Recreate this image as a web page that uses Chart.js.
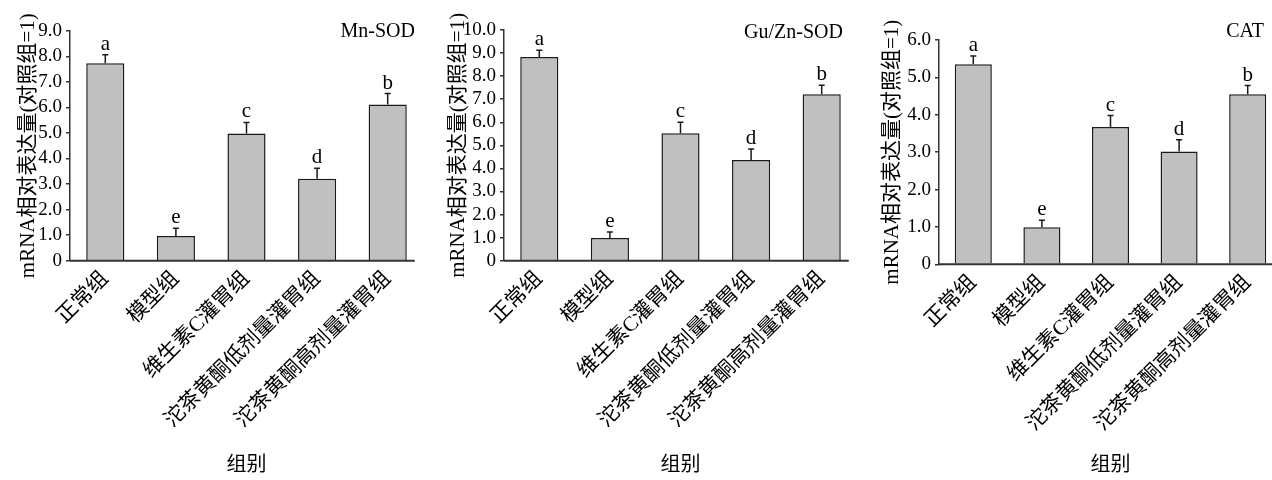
<!DOCTYPE html>
<html>
<head>
<meta charset="utf-8">
<script src="https://cdn.jsdelivr.net/npm/chart.js@4.4.1/dist/chart.umd.min.js"></script>
<style>
  body { margin: 0; background: #fff; overflow: hidden; }
  #wrap { position: relative; width: 1272px; height: 480px; overflow: hidden; }
  canvas { position: absolute; top: 0; }
</style>
</head>
<body>
<div id="wrap">
  <canvas id="mnChart" width="423" height="480" style="left:0px"></canvas>
  <canvas id="guChart" width="427" height="480" style="left:430px"></canvas>
  <canvas id="catChart" width="422" height="480" style="left:860px"></canvas>
</div>
<script>
// data
const groups = ['正常组', '模型组', '维生素C灌胃组', '沱茶黄酮低剂量灌胃组', '沱茶黄酮高剂量灌胃组'];

const mnValues = [7.73, 0.97, 4.98, 3.21, 6.11];
const mnErrors = [0.33, 0.30, 0.43, 0.41, 0.43];
const mnLetters = ['a', 'e', 'c', 'd', 'b'];
const mnTicks = { max: 9 };

const guValues = [8.83, 0.98, 5.52, 4.36, 7.21];
const guErrors = [0.29, 0.26, 0.48, 0.48, 0.39];
const guLetters = ['a', 'e', 'c', 'd', 'b'];
const guTicks = { max: 10 };

const catValues = [5.35, 0.99, 3.67, 3.02, 4.55];
const catErrors = [0.22, 0.19, 0.31, 0.31, 0.23];
const catLetters = ['a', 'e', 'c', 'd', 'b'];
const catTicks = { max: 6 };

const yTitle = 'mRNA相对表达量(对照组=1)';
const xTitle = '组别';

const FONT = '"Liberation Serif", "Times New Roman", "Noto Sans CJK SC", serif';
const INK = '#1a1a1a';

// draws error bars, significance letters, the panel name and the x axis line
const decorPlugin = {
    id: 'decor',
    afterDatasetsDraw(chart, args, opts) {
        const ctx = chart.ctx;
        const y = chart.scales.y;
        const area = chart.chartArea;
        const meta = chart.getDatasetMeta(0);
        ctx.save();
        ctx.strokeStyle = INK;
        ctx.fillStyle = '#000';
        ctx.lineWidth = 1.5;
        let lastRight = area.left;
        meta.data.forEach((bar, i) => {
            const top = y.getPixelForValue(opts.values[i] + opts.errors[i]);
            ctx.beginPath();
            ctx.moveTo(bar.x, bar.y);
            ctx.lineTo(bar.x, top);
            ctx.moveTo(bar.x - 3, top);
            ctx.lineTo(bar.x + 3, top);
            ctx.stroke();
            ctx.font = '21px ' + FONT;
            ctx.textAlign = 'center';
            ctx.textBaseline = 'alphabetic';
            ctx.fillText(opts.letters[i], bar.x, top - 5);
            lastRight = bar.x + bar.width / 2;
        });
        // x axis line
        ctx.lineWidth = 2;
        ctx.strokeStyle = '#333';
        ctx.beginPath();
        ctx.moveTo(area.left, area.bottom);
        ctx.lineTo(lastRight + opts.axisOverhang, area.bottom);
        ctx.stroke();
        // panel name
        ctx.font = '20px ' + FONT;
        ctx.textAlign = 'right';
        ctx.textBaseline = 'middle';
        ctx.fillText(opts.name, area.right - opts.nameInset, opts.nameY);
        ctx.restore();
    }
};

function makePanel(id, name, values, errors, letters, ticks, layout) {
    const ctx = document.getElementById(id).getContext('2d');
    return new Chart(ctx, {
        type: 'bar',
        data: {
            labels: groups,
            datasets: [{
                data: values,
                backgroundColor: '#c0c0c0',
                borderColor: INK,
                borderWidth: 1.5,
                categoryPercentage: 1,
                barPercentage: 0.54
            }]
        },
        options: {
            responsive: false,
            animation: false,
            devicePixelRatio: 1,
            layout: { padding: { top: layout.top, right: 0, bottom: 0, left: 0 } },
            plugins: {
                legend: { display: false },
                tooltip: { enabled: false },
                decor: {
                    name: name,
                    values: values,
                    errors: errors,
                    letters: letters,
                    nameInset: layout.nameInset,
                    nameY: layout.nameY,
                    axisOverhang: 8
                }
            },
            scales: {
                x: {
                    afterFit(scale) { scale.height = 480 - layout.bottom; },
                    grid: { display: false, drawTicks: false },
                    border: { display: false },
                    ticks: {
                        color: '#000',
                        font: { family: FONT, size: 21 },
                        minRotation: 45,
                        maxRotation: 45,
                        autoSkip: false,
                        padding: 6
                    },
                    title: {
                        display: true,
                        text: xTitle,
                        color: '#000',
                        font: { family: FONT, size: 20 },
                        padding: { top: 0, bottom: 2 }
                    }
                },
                y: {
                    min: 0,
                    max: ticks.max,
                    afterFit(scale) { scale.width = layout.axisX; },
                    grid: { display: true, drawOnChartArea: false, drawTicks: true, tickLength: 4, color: '#333', lineWidth: 1.5 },
                    border: { display: true, color: '#333', width: 1.5 },
                    ticks: {
                        stepSize: 1,
                        autoSkip: false,
                        color: '#000',
                        padding: 4,
                        font: { family: FONT, size: 19 },
                        callback: v => v === 0 ? '0' : v.toFixed(1)
                    },
                    title: {
                        display: true,
                        text: yTitle,
                        color: '#000',
                        font: { family: FONT, size: 21 },
                        padding: { top: layout.titleX - 12.6, bottom: 0 }
                    }
                }
            }
        },
        plugins: [decorPlugin]
    });
}

makePanel('mnChart', 'Mn-SOD', mnValues, mnErrors, mnLetters, mnTicks,
    { axisX: 70, top: 30.7, bottom: 260.7, titleX: 28, nameInset: 8, nameY: 32 });
makePanel('guChart', 'Gu/Zn-SOD', guValues, guErrors, guLetters, guTicks,
    { axisX: 74, top: 30, bottom: 260.7, titleX: 28, nameInset: 14, nameY: 33 });
makePanel('catChart', 'CAT', catValues, catErrors, catLetters, catTicks,
    { axisX: 79, top: 40, bottom: 264.3, titleX: 32, nameInset: 18, nameY: 32 });
</script>
</body>
</html>
